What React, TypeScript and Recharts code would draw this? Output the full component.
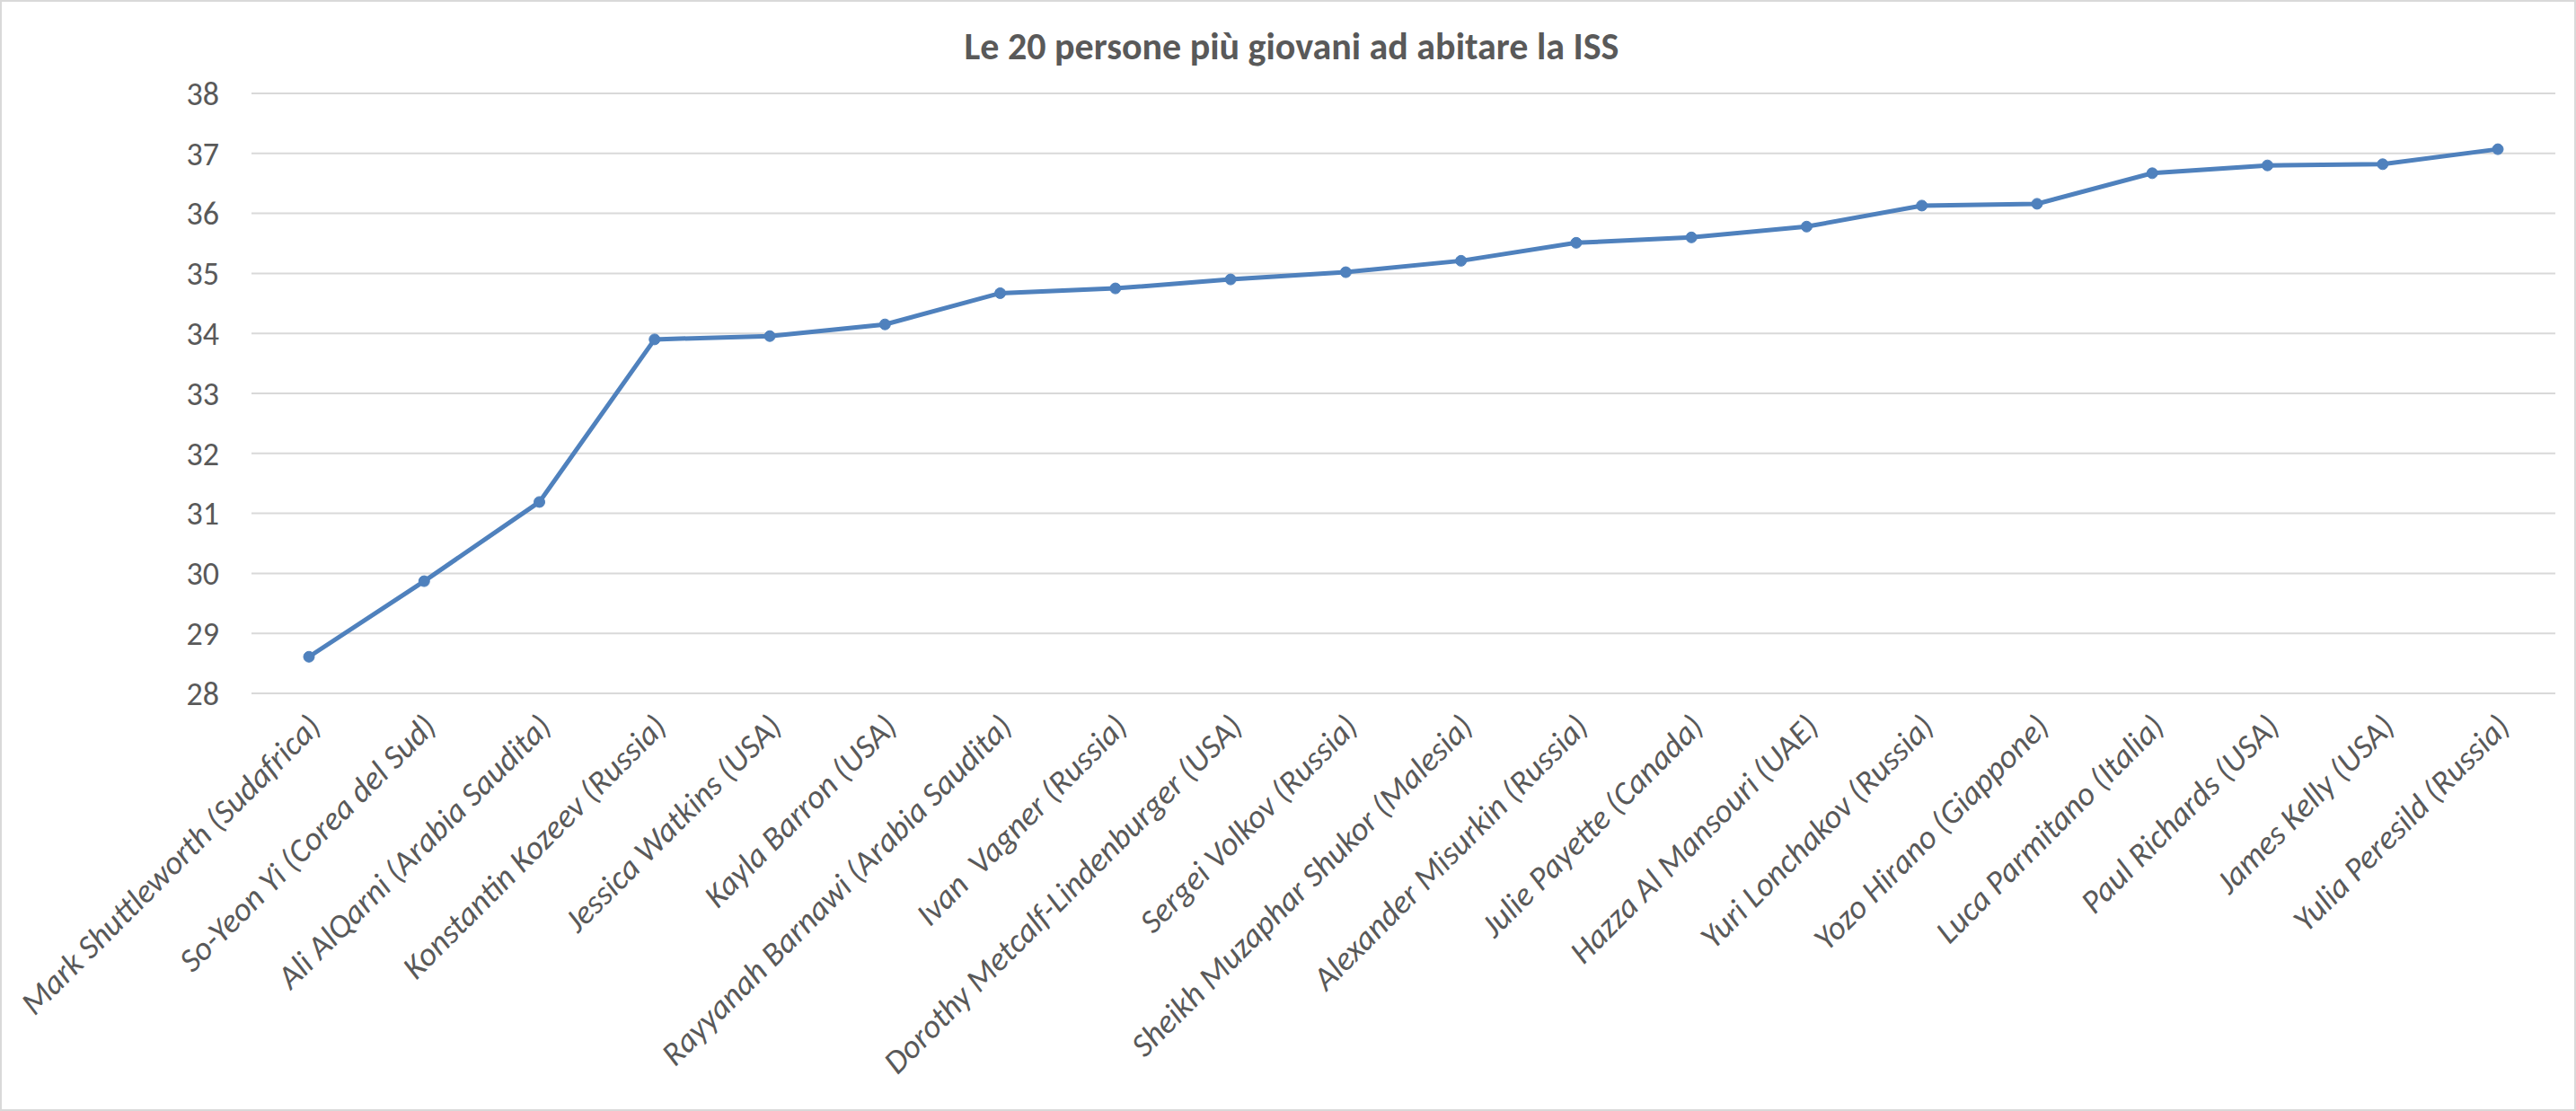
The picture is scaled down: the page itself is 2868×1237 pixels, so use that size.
import { LineChart, Line, XAxis, YAxis, CartesianGrid } from 'recharts'

const names = [
  'Mark Shuttleworth (Sudafrica)',
  'So-Yeon Yi (Corea del Sud)',
  'Ali AlQarni (Arabia Saudita)',
  'Konstantin Kozeev (Russia)',
  'Jessica Watkins (USA)',
  'Kayla Barron (USA)',
  'Rayyanah Barnawi (Arabia Saudita)',
  'Ivan  Vagner (Russia)',
  'Dorothy Metcalf-Lindenburger (USA)',
  'Sergei Volkov (Russia)',
  'Sheikh Muzaphar Shukor (Malesia)',
  'Alexander Misurkin (Russia)',
  'Julie Payette (Canada)',
  'Hazza Al Mansouri (UAE)',
  'Yuri Lonchakov (Russia)',
  'Yozo Hirano (Giappone)',
  'Luca Parmitano (Italia)',
  'Paul Richards (USA)',
  'James Kelly (USA)',
  'Yulia Peresild (Russia)',
]

const ages = [
  28.61, 29.87, 31.19, 33.9, 33.955, 34.15, 34.67, 34.75, 34.9, 35.02,
  35.21, 35.51, 35.6, 35.78, 36.13, 36.16, 36.67, 36.8, 36.82, 37.07,
]

const yTicks = [28, 29, 30, 31, 32, 33, 34, 35, 36, 37, 38]

const TITLE = 'Le 20 persone più giovani ad abitare la ISS'
const FONT = 'Carlito, Lato, sans-serif'
const TEXT = '#595959'
const BLUE = '#4f81bd'

const data = names.map((name, i) => ({ name, age: ages[i] }))

function SlantTick({ x, y, payload }: any) {
  return (
    <g transform={`translate(${x + 6},${y + 22})`}>
      <text
        textAnchor="end"
        transform="rotate(-45)"
        fill={TEXT}
        fontSize={37}
        fontFamily={FONT}
        fontStyle="italic"
        dy="0.35em"
        style={{ whiteSpace: 'pre' }}
      >
        {payload.value}
      </text>
    </g>
  )
}

export default function App() {
  return (
    <div
      style={{
        position: 'absolute',
        left: 0,
        top: 0,
        width: 2868,
        height: 1237,
        background: '#fff',
        border: '2px solid #d9d9d9',
        boxSizing: 'border-box',
        fontFamily: FONT,
      }}
    >
      <div
        style={{
          position: 'absolute',
          left: 0,
          right: 0,
          top: 24,
          textAlign: 'center',
          fontSize: 42,
          fontWeight: 700,
          color: TEXT,
          paddingLeft: 8,
        }}
      >
        {TITLE}
      </div>
      <div style={{ position: 'absolute', left: -2, top: -2 }}>
        <LineChart
          width={2868}
          height={1237}
          data={data}
          margin={{ top: 104, right: 23, bottom: 0, left: 0 }}
        >
          <CartesianGrid vertical={false} stroke="#d9d9d9" strokeWidth={2} />
          <XAxis
            dataKey="name"
            interval={0}
            height={465}
            padding={{ left: 64, right: 64 }}
            axisLine={{ stroke: '#d9d9d9', strokeWidth: 2 }}
            tickLine={false}
            tick={<SlantTick />}
          />
          <YAxis
            width={280}
            domain={[28, 38]}
            ticks={yTicks}
            interval={0}
            axisLine={false}
            tickLine={false}
            tickMargin={30}
            tick={{ fill: TEXT, fontSize: 36, fontFamily: FONT }}
          />
          <Line
            type="linear"
            dataKey="age"
            stroke={BLUE}
            strokeWidth={5}
            dot={{ r: 6, fill: BLUE, stroke: BLUE, strokeWidth: 1 }}
            activeDot={false}
            isAnimationActive={false}
          />
        </LineChart>
      </div>
    </div>
  )
}
